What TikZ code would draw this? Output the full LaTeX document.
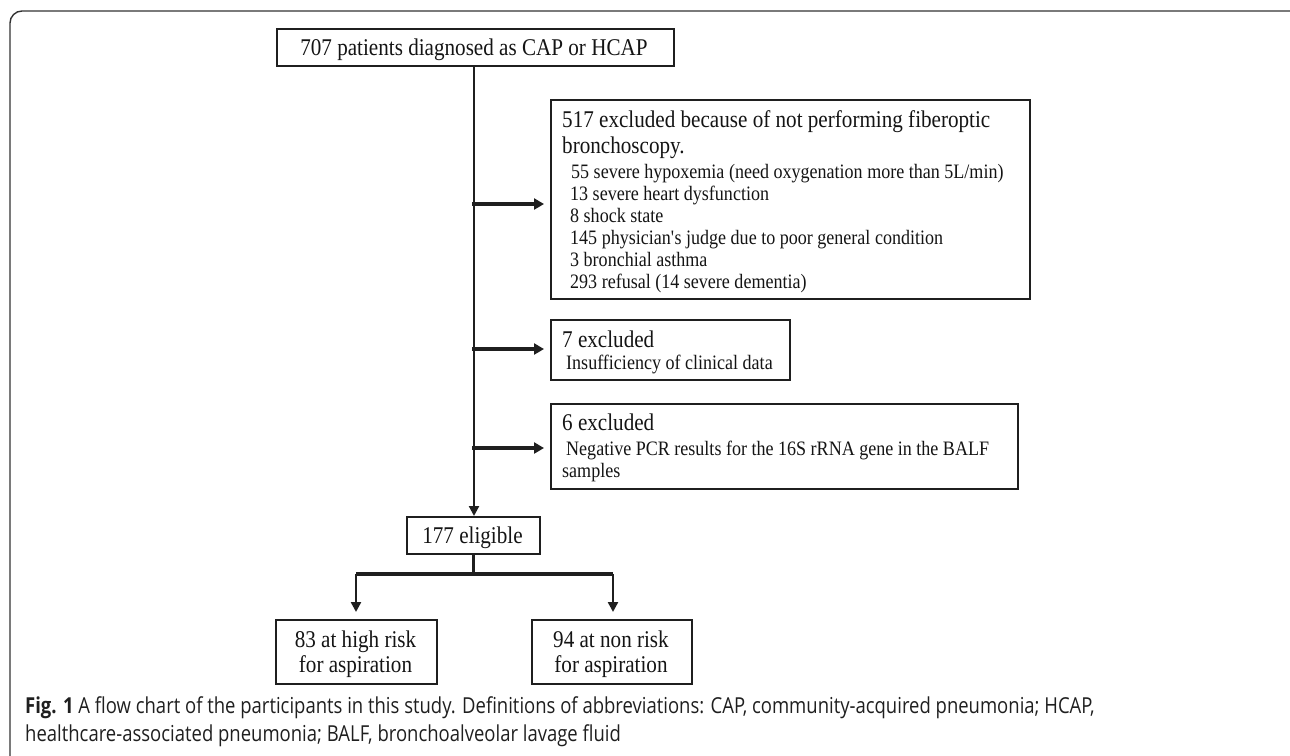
\documentclass[tikz,border=0pt]{standalone}
\usepackage{fontspec}
\setmainfont{Liberation Serif}[FakeStretch=0.88]
\newfontfamily\capfont{Open Sans}[FakeStretch=0.84]
\usetikzlibrary{arrows.meta}
\begin{document}
\begin{tikzpicture}[x=1pt,y=-1pt,
  boxnode/.style={draw=black!88,line width=2pt,rectangle,inner sep=0pt,anchor=north west},
  bigtxt/.style={font=\fontsize{24}{27}\selectfont,inner sep=0pt,text=black!92},
  smalltxt/.style={font=\fontsize{20.5}{22}\selectfont,inner sep=0pt,text=black!92},
  trunk/.style={line width=2.2pt,draw=black!88},
  sidearrow/.style={line width=4pt,draw=black!88,-{Triangle[length=10pt,width=11pt]},shorten >=6pt},
  downarrow/.style={line width=2.4pt,draw=black!88,-{Triangle[length=10pt,width=10pt]}},
  captxt/.style={font=\capfont\fontsize{22}{27}\selectfont,inner sep=0pt,text=black!88,anchor=base west}]
\useasboundingbox (0,0) rectangle (1290,755);
\draw[line width=1.4pt,draw=black!80,rounded corners=12pt] (10,11) rectangle (1302,768);

% boxes
\node[boxnode,minimum width=397pt,minimum height=37pt] (top) at (276,28) {};
\node[bigtxt,anchor=base] (toptxt) at (474,55) {707 patients diagnosed as CAP or HCAP};

\node[boxnode,minimum width=479pt,minimum height=199pt] (b517) at (550,99) {};
\node[bigtxt,anchor=base west] (b517a) at (562,127) {517 excluded because of not performing fiberoptic};
\node[bigtxt,anchor=base west] (b517b) at (562,153) {bronchoscopy.};
\node[smalltxt,anchor=base west] (b517c) at (571,178) {55 severe hypoxemia (need oxygenation more than 5L/min)};
\node[smalltxt,anchor=base west] (b517d) at (570,200) {13 severe heart dysfunction};
\node[smalltxt,anchor=base west] (b517e) at (570,222) {8 shock state};
\node[smalltxt,anchor=base west] (b517f) at (570,244) {145 physician\textquotesingle s judge due to poor general condition};
\node[smalltxt,anchor=base west] (b517g) at (570,266) {3 bronchial asthma};
\node[smalltxt,anchor=base west] (b517h) at (570,288) {293 refusal (14 severe dementia)};

\node[boxnode,minimum width=239pt,minimum height=60pt] (b7) at (550,319) {};
\node[bigtxt,anchor=base west] (b7a) at (562,347) {7 excluded};
\node[smalltxt,anchor=base west] (b7b) at (566,369) {Insufficiency of clinical data};

\node[boxnode,minimum width=467pt,minimum height=85pt] (b6) at (550,403) {};
\node[bigtxt,anchor=base west] (b6a) at (562,430) {6 excluded};
\node[smalltxt,anchor=base west] (b6b) at (566,455) {Negative PCR results for the 16S rRNA gene in the BALF};
\node[smalltxt,anchor=base west] (b6c) at (562,477) {samples};

\node[boxnode,minimum width=133pt,minimum height=37pt] (elig) at (406,516) {};
\node[bigtxt,anchor=base] (eligtxt) at (472.5,543) {177 eligible};

\node[boxnode,minimum width=161pt,minimum height=64pt] (high) at (275,619) {};
\node[bigtxt,anchor=base] (higha) at (355.5,647) {83 at high risk};
\node[bigtxt,anchor=base] (highb) at (355.5,672) {for aspiration};

\node[boxnode,minimum width=160pt,minimum height=64pt] (non) at (531,619) {};
\node[bigtxt,anchor=base] (nona) at (611,647) {94 at non risk};
\node[bigtxt,anchor=base] (nonb) at (611,672) {for aspiration};

% connectors
\coordinate (t0) at (474,65);
\coordinate (j1) at (472,204);
\coordinate (j2) at (472,349);
\coordinate (j3) at (472,448);
\coordinate (split) at (473,574);
\coordinate (sl) at (356,574);
\coordinate (sr) at (613,574);

\draw[trunk,-{Triangle[length=10pt,width=10pt]}] (t0) -- (t0 |- elig.north);
\draw[sidearrow] (j1) -- (j1 -| b517.west);
\draw[sidearrow] (j2) -- (j2 -| b7.west);
\draw[sidearrow] (j3) -- (j3 -| b6.west);

\draw[line width=3pt,draw=black!88] (split |- elig.south) -- (split);
\draw[line width=4pt,draw=black!88] (sl) -- (sr);
\draw[downarrow,shorten >=7pt] (sl) -- (sl |- high.north);
\draw[downarrow,shorten >=7pt] (sr) -- (sr |- non.north);

% caption
\node[captxt] (cap1) at (25,713) {\textbf{Fig. 1} A flow chart of the participants in this study. Definitions of abbreviations: CAP, community-acquired pneumonia; HCAP,};
\node[captxt] (cap2) at (25,741) {healthcare-associated pneumonia; BALF, bronchoalveolar lavage fluid};
\end{tikzpicture}
\end{document}
